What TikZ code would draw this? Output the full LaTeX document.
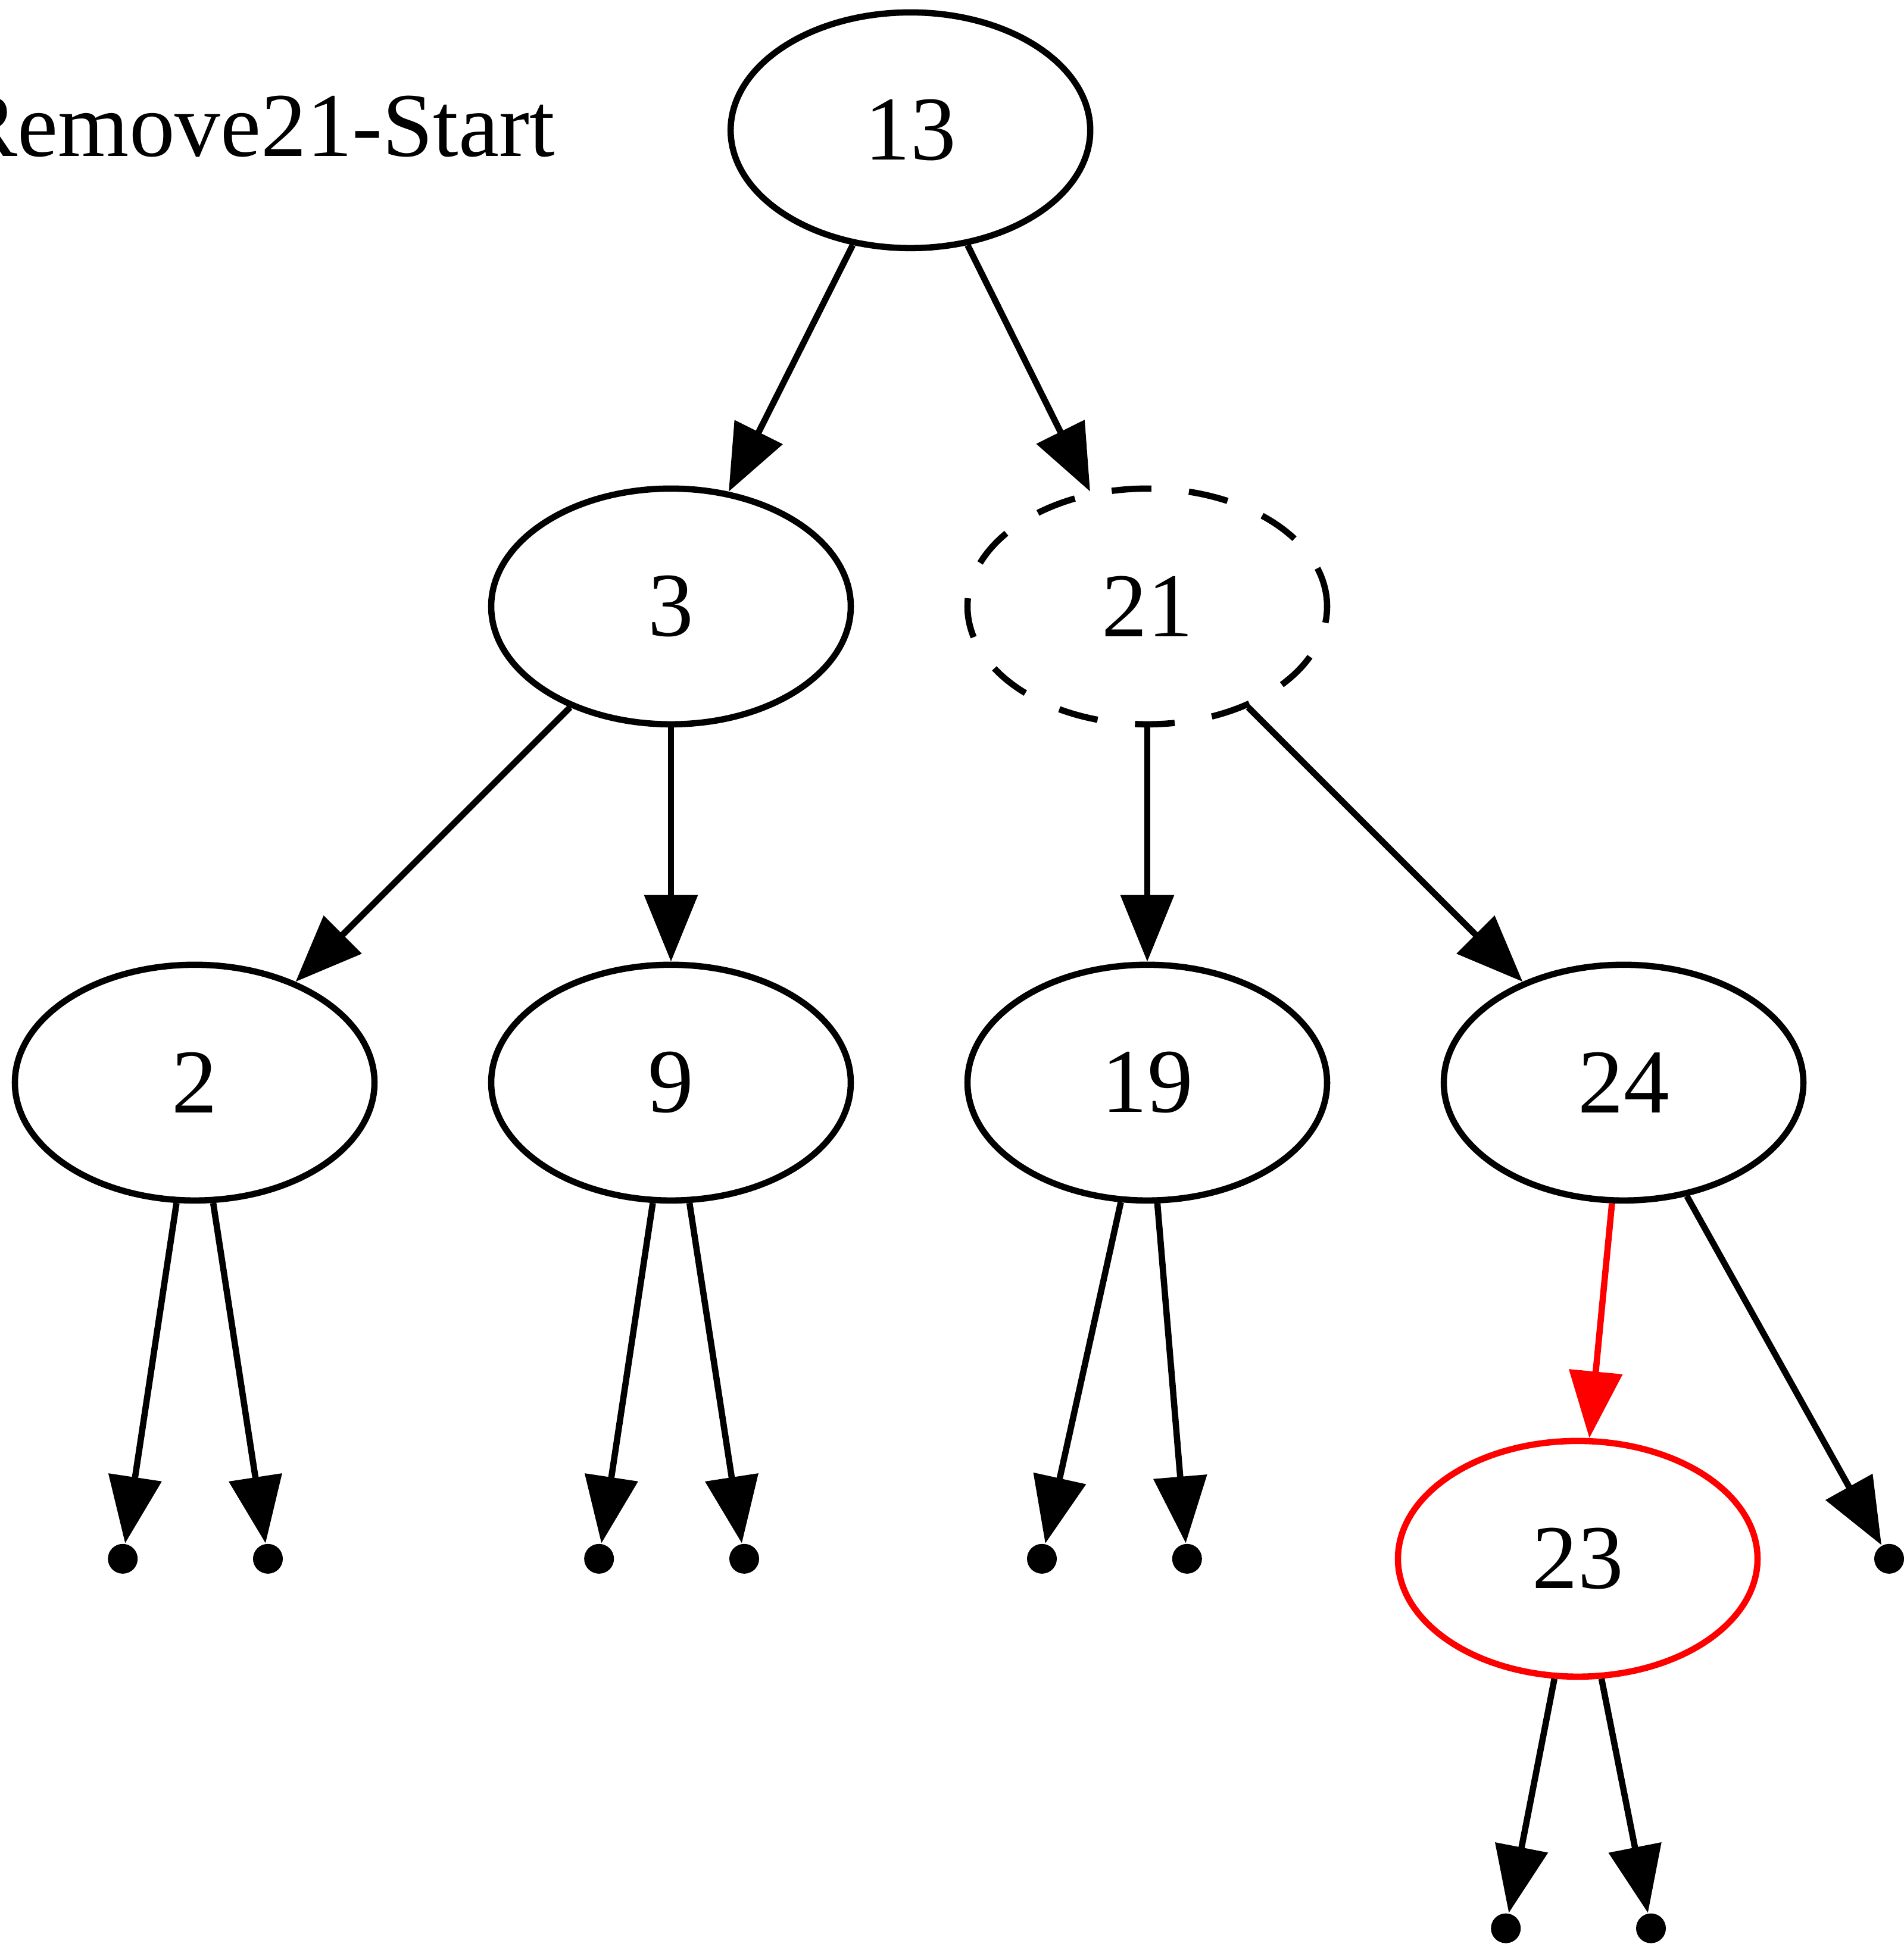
\documentclass[tikz,border=0pt]{standalone}
\usepackage{fontspec}
\setmainfont{Liberation Serif}
\usetikzlibrary{shapes.geometric, arrows.meta}
\tikzset{
  key/.style={draw, ellipse, line width=1.5pt, minimum width=3.02cm, minimum height=1.98cm, inner sep=0pt, font=\fontsize{21.8}{26}\selectfont},
  gone/.style={key, dash pattern=on 9.5pt off 9pt},
  fresh/.style={key, draw=red},
  nil/.style={circle, fill, inner sep=0pt, minimum size=0.25cm},
  arr/.style={-{Triangle[length=0.56cm, width=0.44cm]}, line width=1.5pt},
}
\begin{document}
\begin{tikzpicture}
  \useasboundingbox (0,0) rectangle (15.99,-16.33);
  \node[anchor=base east, inner sep=0pt, font=\fontsize{21.8}{26}\selectfont] (title) at (4.667,-1.3125) {Remove21-Start};
  \node[key] (n13) at (7.646,-1.094) {13};
  \node[key] (n3) at (5.635,-5.094) {3};
  \node[gone] (n21) at (9.635,-5.094) {21};
  \node[key] (n2) at (1.635,-9.094) {2};
  \node[key] (n9) at (5.635,-9.094) {9};
  \node[key] (n19) at (9.635,-9.094) {19};
  \node[key] (n24) at (13.635,-9.094) {24};
  \node[fresh] (n23) at (13.25,-13.094) {23};
  \node[nil] (p2a) at (1.031,-13.094) {};
  \node[nil] (p2b) at (2.25,-13.094) {};
  \node[nil] (p9a) at (5.031,-13.094) {};
  \node[nil] (p9b) at (6.25,-13.094) {};
  \node[nil] (p19a) at (8.75,-13.094) {};
  \node[nil] (p19b) at (9.969,-13.094) {};
  \node[nil] (p24b) at (15.865,-13.094) {};
  \node[nil] (p23a) at (12.646,-16.198) {};
  \node[nil] (p23b) at (13.865,-16.198) {};
  \draw[arr] (n13) -- (n3);
  \draw[arr] (n13) -- (n21);
  \draw[arr] (n3) -- (n2);
  \draw[arr] (n3) -- (n9);
  \draw[arr] (n21) -- (n19);
  \draw[arr] (n21) -- (n24);
  \draw[arr] (n2) -- (p2a);
  \draw[arr] (n2) -- (p2b);
  \draw[arr] (n9) -- (p9a);
  \draw[arr] (n9) -- (p9b);
  \draw[arr] (n19) -- (p19a);
  \draw[arr] (n19) -- (p19b);
  \draw[arr, red] (n24) -- (n23);
  \draw[arr] (n24) -- (p24b);
  \draw[arr] (n23) -- (p23a);
  \draw[arr] (n23) -- (p23b);
\end{tikzpicture}
\end{document}
